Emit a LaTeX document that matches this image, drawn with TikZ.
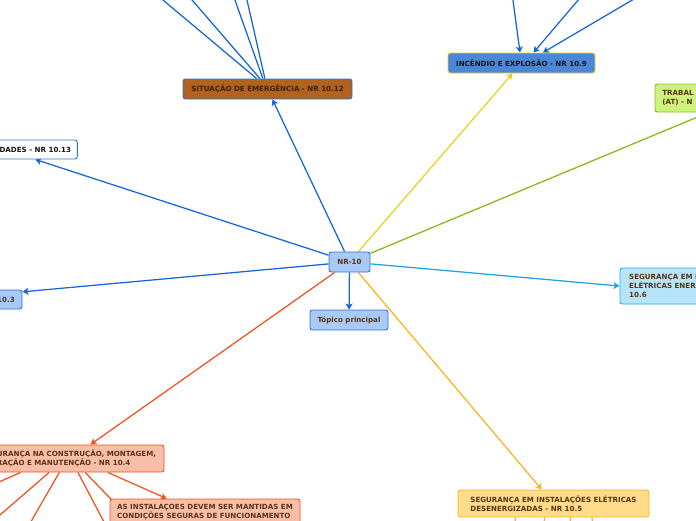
\documentclass[tikz,border=0pt]{standalone}
\usepackage{fontspec}
\setmainfont{DejaVu Sans}
\usetikzlibrary{arrows.meta,backgrounds}
\definecolor{blueln}{HTML}{1565D8}
\definecolor{yellowln}{HTML}{E8D21E}
\definecolor{greenln}{HTML}{86B918}
\definecolor{skyln}{HTML}{1EA2E6}
\definecolor{redln}{HTML}{F0521E}
\definecolor{orangeln}{HTML}{F6B51C}
\definecolor{nrfill}{HTML}{A9C9F7}
\definecolor{nrdraw}{HTML}{2B74DC}
\definecolor{sitfill}{HTML}{B0621E}
\definecolor{incfill}{HTML}{4A87D9}
\definecolor{incdraw}{HTML}{E7CF2A}
\definecolor{trabfill}{HTML}{CDF27E}
\definecolor{trabdraw}{HTML}{89BD22}
\definecolor{segfill}{HTML}{B6E5FB}
\definecolor{segdraw}{HTML}{2AA9E9}
\definecolor{redfill}{HTML}{F9BEA8}
\definecolor{yelfill}{HTML}{FEDC8A}
\definecolor{brtext}{HTML}{5B3411}
\definecolor{sittext}{HTML}{3A2208}
\definecolor{darktext}{HTML}{151515}
\begin{document}
\begin{tikzpicture}[x=1pt,y=-1pt,
  font=\fontsize{7.1}{9}\selectfont\bfseries,
  box/.style={draw, rounded corners=2.5pt, line width=0.9pt, inner sep=0pt, align=center},
  bluebox/.style={box, fill=nrfill, draw=nrdraw, text=brtext},
  redbox/.style={box, fill=redfill, draw=redln, text=brtext, align=left},
  conn/.style={line width=1.25pt},
  arr/.style={conn, -{Stealth[length=6pt,width=7pt,inset=1.5pt]}}]
\useasboundingbox (0,0) rectangle (696,520);
% nodes
\node[bluebox, minimum width=41, minimum height=20] (nr10) at (349.5,262) {NR-10};
\node[bluebox, minimum width=78, minimum height=20] (topico) at (349,320) {Tópico principal};
\node[box, fill=sitfill, draw=nrdraw, text=sittext, minimum width=169, minimum height=20] (sit) at (267.5,89) {SITUAÇÃO DE EMERGÊNCIA - NR 10.12};
\node[box, fill=incfill, draw=incdraw, text=darktext, minimum width=147, minimum height=20] (inc) at (521.5,63) {INCÊNDIO E EXPLOSÃO - NR 10.9};
\node[box, fill=trabfill, draw=trabdraw, text=brtext, align=left, minimum width=46, minimum height=28] (trab) at (678,98) {TRABAL\\(AT) - N};
\node[box, fill=white, draw=nrdraw, text=darktext, minimum width=84, minimum height=19] (dades) at (35.3,149.5) {DADES - NR 10.13};
\node[bluebox, minimum width=32, minimum height=19] (n103) at (6,299.5) {10.3};
\node[box, fill=segfill, draw=segdraw, text=brtext, align=left, minimum width=87, minimum height=36] (seg106) at (663.5,286) {SEGURANÇA EM I\\ELÉTRICAS ENER\\10.6};
\node[redbox, minimum width=175, minimum height=27] (n104) at (76.5,458.5) {URANÇA NA CONSTRUÇÃO, MONTAGEM,\\RAÇÃO E MANUTENÇÃO - NR 10.4};
\node[redbox, minimum width=190, minimum height=27] (asinst) at (205,512.5) {AS INSTALAÇOES DEVEM SER MANTIDAS EM\\CONDIÇÕES SEGURAS DE FUNCIONAMENTO};
\node[box, fill=yelfill, draw=orangeln, text=brtext, align=left, minimum width=191, minimum height=27] (n105) at (553.5,503.5) {SEGURANÇA EM INSTALAÇÕES ELÉTRICAS\\DESENERGIZADAS - NR 10.5};
% free ends
\coordinate (trabend) at (712,111);
\coordinate (s1) at (151,-10);
\coordinate (s2) at (183.4,-10);
\coordinate (s3) at (231.4,-10);
\coordinate (s4) at (244.7,-10);
\coordinate (i1) at (511.6,-10);
\coordinate (i2) at (586.7,-10);
\coordinate (i3) at (649.3,-10);
\coordinate (b1) at (-10,486);
\coordinate (b2) at (-10,523.6);
\coordinate (b3) at (26.2,530);
\coordinate (b4) at (108.2,530);
\coordinate (b5) at (140.8,530);
\coordinate (y1) at (515,530);
\coordinate (y2) at (544,530);
\coordinate (y3) at (571,530);
\coordinate (y4) at (594,530);
\begin{scope}[on background layer]
\draw[arr, blueln] (nr10) -- (sit);
\draw[arr, yellowln] (nr10) -- (inc);
\draw[conn, greenln] (nr10) -- (trabend);
\draw[arr, blueln] (nr10) -- (dades.south);
\draw[arr, blueln] (nr10) -- (n103.25);
\draw[arr, skyln] (nr10) -- (seg106.west);
\draw[arr, blueln] (nr10) -- (topico);
\draw[arr, redln] (nr10) -- (n104.45);
\draw[arr, orangeln] (nr10) -- (n105);
\draw[arr, redln] (n104) -- (asinst.160);
\draw[conn, blueln] (sit.136.4) -- (s1);
\draw[conn, blueln] (sit.126.9) -- (s2);
\draw[conn, blueln] (sit.114.2) -- (s3);
\draw[conn, blueln] (sit.104) -- (s4);
\draw[arr, blueln] (i1) -- (inc.98.5);
\draw[arr, blueln] (i2) -- (inc.41);
\draw[arr, blueln] (i3) -- (inc.26);
\draw[conn, redln] (n104.194.2) -- (b1);
\draw[conn, redln] (n104.207) -- (b2);
\draw[conn, redln] (n104.219.3) -- (b3);
\draw[conn, redln] (n104.276.3) -- (b4);
\draw[conn, redln] (n104.302.2) -- (b5);
\draw[conn, orangeln] (n105.200.3) -- (y1);
\draw[conn, orangeln] (n105.237.8) -- (y2);
\draw[conn, orangeln] (n105.320.7) -- (y3);
\draw[conn, orangeln] (n105.340.7) -- (y4);
\end{scope}
\end{tikzpicture}
\end{document}
